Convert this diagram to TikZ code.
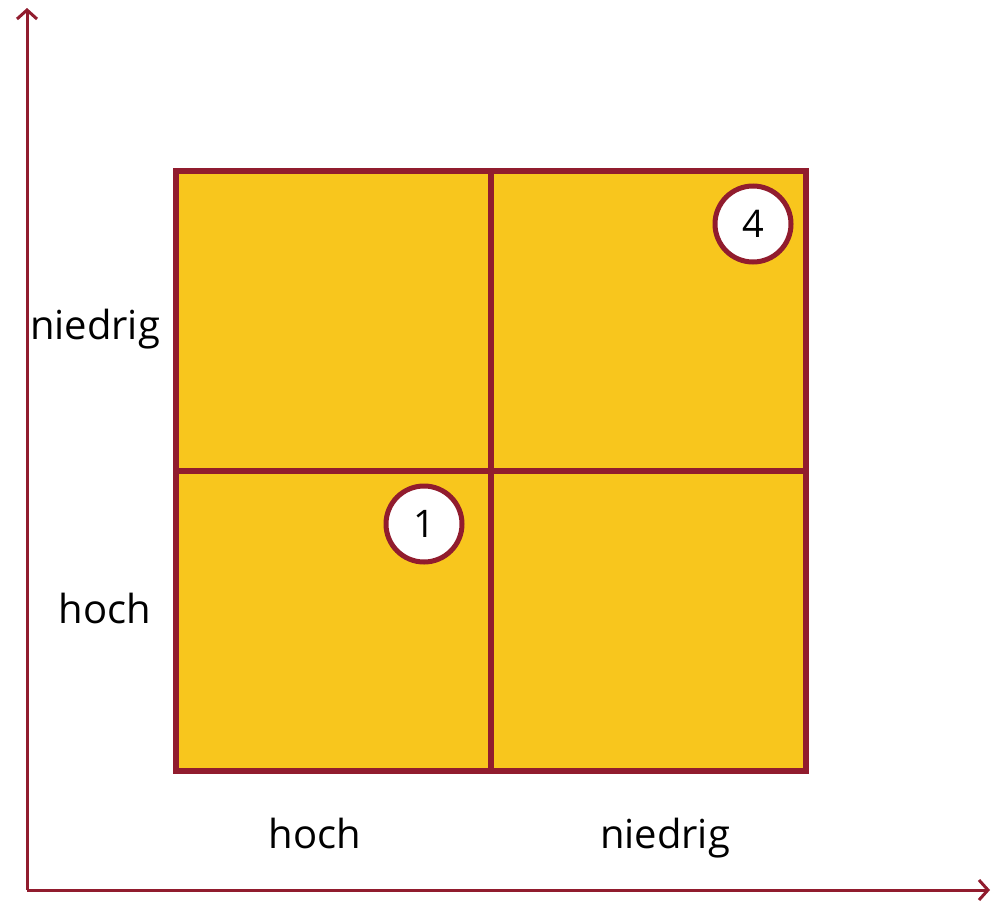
\documentclass[tikz,border=0pt]{standalone}
\usepackage{fontspec}
\setmainfont{Open Sans}
\usetikzlibrary{arrows.meta}
\definecolor{weinrot}{HTML}{911C2E}
\definecolor{gelb}{HTML}{F8C61D}
\tikzset{
    >={Straight Barb[length=9pt,width=20pt,line width=3pt]},
    axis/.style={draw=weinrot,line width=3pt,->},
    cell/.style={draw=weinrot,fill=gelb,line width=5.5pt,minimum width=315pt,minimum height=300pt,inner sep=0pt},
    marker/.style={circle,draw=weinrot,fill=white,line width=5pt,minimum size=76pt,inner sep=0pt,font=\fontsize{38pt}{42pt}\selectfont},
    label/.style={font=\fontsize{40pt}{46pt}\selectfont,inner sep=0pt,anchor=base}
}
\begin{document}
\begin{tikzpicture}[x=1pt,y=-1pt]
\useasboundingbox (0,0) rectangle (992,902);

% Axes
\coordinate (o) at (27,890);
\coordinate (ytop) at (27,8);
\coordinate (xend) at (990,890);
\draw[axis] (o) -- (ytop);
\draw[axis] (o) -- (xend);

% Matrix cells
\node[cell] (tl) at (333.5,321) {};
\node[cell] (tr) at (648.5,321) {};
\node[cell] (bl) at (333.5,621) {};
\node[cell] (br) at (648.5,621) {};

% Markers
\node[marker] (m1) at (424,524) {1};
\node[marker] (m4) at (753,224) {4};

% Labels
\node[label] (yn) at (95,339) {niedrig};
\node[label] (yh) at (105,623) {hoch};
\node[label] (xh) at (315,848) {hoch};
\node[label] (xn) at (665,848) {niedrig};

\end{tikzpicture}
\end{document}
